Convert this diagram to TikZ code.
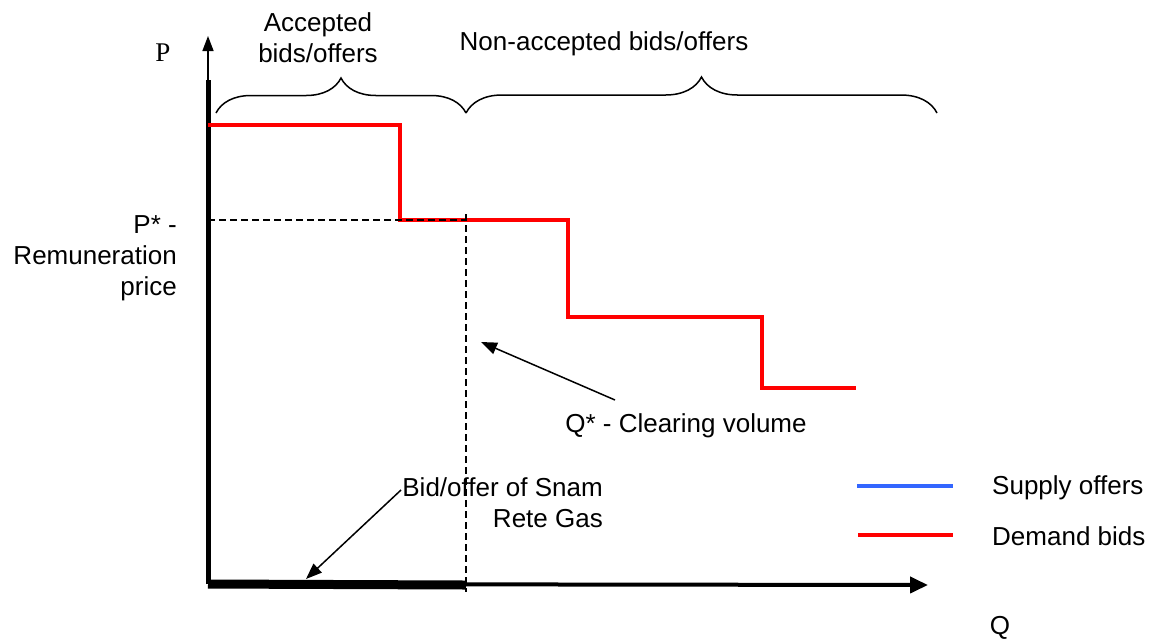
\documentclass[tikz,border=0pt]{standalone}
\usepackage{fontspec}
\setmainfont{Liberation Sans}
\newfontfamily\pfont{Liberation Serif}
\usetikzlibrary{decorations.pathreplacing,arrows.meta}

\definecolor{supplyblue}{RGB}{51,102,255}

\begin{document}
\begin{tikzpicture}[x=1pt,y=-1pt,
  every node/.style={font=\fontsize{26}{31}\selectfont, inner sep=0pt}]
\useasboundingbox (0,0) rectangle (1153,641);

% Axes
\coordinate (O) at (208,584);
\coordinate (Ptop) at (208,80);
\coordinate (Ptip) at (208,36);
\coordinate (Qtip) at (928,585);
\coordinate (Qstar) at (466,585);
\draw[line width=5pt] (O) -- (Ptop);
\draw[line width=1.5pt, -{Triangle[length=15pt,width=11pt]}] (Ptop) -- (Ptip);
\draw[line width=4pt, -{Triangle[length=18pt,width=16pt]}] (O) -- (Qtip);
\draw[line width=9pt] (O) -- (Qstar);

\node (P) at (163,53) {\pfont\fontsize{27}{30}\selectfont P};
\node (Q) at (1000,628) {Q};

% Demand bids (step curve)
\coordinate (d0) at (208,125);
\coordinate (d1) at (400,125);
\coordinate (d2) at (400,220);
\coordinate (d3) at (568,220);
\coordinate (d4) at (568,317);
\coordinate (d5) at (762,317);
\coordinate (d6) at (762,388);
\coordinate (d7) at (856,388);
\draw[red, line width=4pt] (d0) -- (d1) -- (d2) -- (d3) -- (d4) -- (d5) -- (d6) -- (d7);

% Clearing point
\coordinate (Pstar) at (208,220);
\coordinate (clear) at (466,220);
\coordinate (Qlow) at (466,592);
\draw[line width=1.5pt, dash pattern=on 7pt off 4pt] (Pstar) -- (clear);
\draw[line width=1.5pt, dash pattern=on 7pt off 4pt] (466,214) -- (Qlow);

\node[anchor=east, align=right] (price) at (177,258) {P* -\\Remuneration\\price};

% Braces
\coordinate (b0) at (216,113);
\coordinate (b1) at (466,113);
\coordinate (b2) at (937,113);
\draw[line width=1.5pt, decorate, decoration={brace, amplitude=35pt}] (b0) -- (b1);
\draw[line width=1.5pt, decorate, decoration={brace, amplitude=36pt}] (b1) -- (b2);
\node[align=center] (acc) at (318,38) {Accepted\\bids/offers};
\node (nonacc) at (604,44) {Non-accepted bids/offers};

% Annotations
\node (qlabel) at (686,426) {Q* - Clearing volume};
\coordinate (qfrom) at (615,400);
\coordinate (qto) at (481,342);
\draw[line width=1.5pt, -{Triangle[length=16pt,width=12pt]}] (qfrom) -- (qto);

\node[anchor=east, align=right] (snam) at (603,503) {Bid/offer of Snam\\Rete Gas};
\coordinate (sfrom) at (401,490);
\coordinate (sto) at (306,579);
\draw[line width=1.5pt, -{Triangle[length=16pt,width=12pt]}] (sfrom) -- (sto);

% Legend
\coordinate (l1a) at (857,486);
\coordinate (l1b) at (953,486);
\coordinate (l2a) at (858,535);
\coordinate (l2b) at (953,535);
\draw[supplyblue, line width=4pt] (l1a) -- (l1b);
\draw[red, line width=4pt] (l2a) -- (l2b);
\node[anchor=west] (supply) at (992,488) {Supply offers};
\node[anchor=west] (demand) at (992,536) {Demand bids};

\end{tikzpicture}
\end{document}
